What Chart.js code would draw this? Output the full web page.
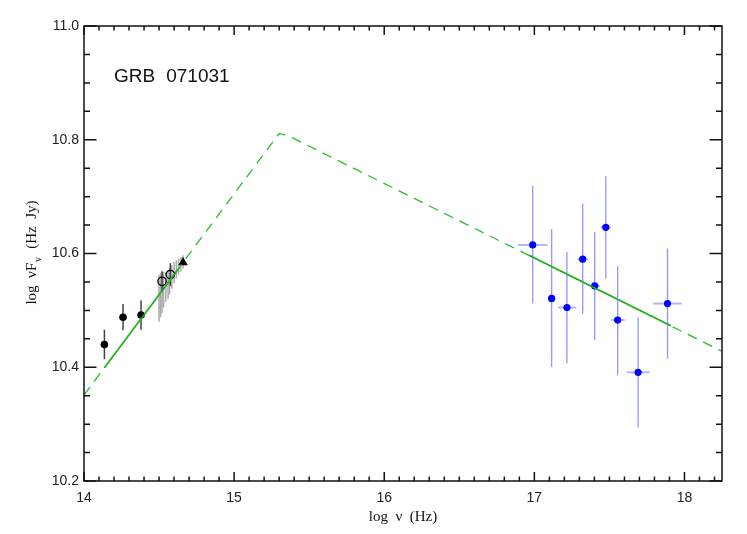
<!DOCTYPE html>
<html>
<head>
<meta charset="utf-8">
<script src="https://cdn.jsdelivr.net/npm/chart.js@4.4.0/dist/chart.umd.min.js"></script>
<style>
  body { margin: 0; background: #fff; }
  canvas { display: block; }
</style>
</head>
<body>
<canvas id="sed" width="747" height="534"></canvas>
<script>
// broken power law model (dashed) and the two fitted pieces (solid)
const modelX = [14.0, 15.30, 15.36, 18.25]
const modelY = [10.351, 10.811, 10.807, 10.428]
const optFitX = [14.136, 14.635]
const optFitY = [10.399, 10.575]
const xrayFitX = [16.964, 17.909]
const xrayFitY = [10.597, 10.473]

// near-IR / optical photometry
const nirX = [14.136, 14.26, 14.38]
const nirY = [10.440, 10.488, 10.492]
const nirErr = [0.026, 0.023, 0.026]
const openX = [14.52, 14.575]
const openY = [10.551, 10.563]
const openErr = [0.017, 0.02]
const triX = [14.66]
const triY = [10.584]

// optical spectrum (grey bars)
const specX = [14.50, 14.51, 14.52, 14.53, 14.545, 14.56, 14.57, 14.585, 14.60, 14.615, 14.63, 14.645, 14.66]
const specLo = [10.48, 10.488, 10.495, 10.505, 10.515, 10.52, 10.528, 10.538, 10.548, 10.556, 10.563, 10.568, 10.574]
const specHi = [10.562, 10.566, 10.570, 10.568, 10.566, 10.570, 10.575, 10.580, 10.585, 10.588, 10.591, 10.594, 10.597]

// X-ray points
const xrayX = [16.989, 17.115, 17.217, 17.322, 17.402, 17.476, 17.555, 17.691, 17.887]
const xrayY = [10.615, 10.521, 10.505, 10.590, 10.543, 10.646, 10.483, 10.391, 10.512]
const xrayXLo = [16.891, 17.093, 17.157, 17.287, 17.371, 17.442, 17.509, 17.615, 17.791]
const xrayXHi = [17.087, 17.142, 17.280, 17.357, 17.437, 17.509, 17.602, 17.767, 17.982]
const xrayYLo = [10.512, 10.400, 10.407, 10.494, 10.448, 10.556, 10.386, 10.294, 10.415]
const xrayYHi = [10.719, 10.643, 10.603, 10.688, 10.638, 10.736, 10.578, 10.488, 10.609]

const xTicks = [14, 15, 16, 17, 18]
const yTicks = [10.2, 10.4, 10.6, 10.8, 11.0]

const pts = (xs, ys) => xs.map((x, i) => ({ x: x, y: ys[i] }))

const sansFont = '"Liberation Sans", Arial, sans-serif'
const serifFont = '"Liberation Serif", "Times New Roman", serif'

const errorBars = {
  id: 'errorBars',
  beforeDatasetsDraw(chart) {
    const ctx = chart.ctx
    const xs = chart.scales.x
    const ys = chart.scales.y
    ctx.save()
    // grey spectrum
    ctx.strokeStyle = 'rgba(150,150,150,0.8)'
    ctx.lineWidth = 1.5
    specX.forEach((x, i) => {
      const px = xs.getPixelForValue(x)
      ctx.beginPath()
      ctx.moveTo(px, ys.getPixelForValue(specLo[i]))
      ctx.lineTo(px, ys.getPixelForValue(specHi[i]))
      ctx.stroke()
    })
    // photometry bars
    ctx.strokeStyle = '#444'
    ctx.lineWidth = 1.5
    const allX = nirX.concat(openX)
    const allY = nirY.concat(openY)
    const allE = nirErr.concat(openErr)
    allX.forEach((x, i) => {
      const px = xs.getPixelForValue(x)
      ctx.beginPath()
      ctx.moveTo(px, ys.getPixelForValue(allY[i] - allE[i]))
      ctx.lineTo(px, ys.getPixelForValue(allY[i] + allE[i]))
      ctx.stroke()
    })
    // X-ray bars
    xrayX.forEach((x, i) => {
      const px = xs.getPixelForValue(x)
      const py = ys.getPixelForValue(xrayY[i])
      ctx.strokeStyle = 'rgba(60,60,255,0.55)'
      ctx.lineWidth = 1.3
      ctx.beginPath()
      ctx.moveTo(px, ys.getPixelForValue(xrayYLo[i]))
      ctx.lineTo(px, ys.getPixelForValue(xrayYHi[i]))
      ctx.stroke()
      ctx.strokeStyle = 'rgba(90,90,255,0.45)'
      ctx.lineWidth = 2
      ctx.beginPath()
      ctx.moveTo(xs.getPixelForValue(xrayXLo[i]), py)
      ctx.lineTo(xs.getPixelForValue(xrayXHi[i]), py)
      ctx.stroke()
    })
    ctx.restore()
  }
}

const frame = {
  id: 'frame',
  afterDraw(chart) {
    const ctx = chart.ctx
    const a = chart.chartArea
    const xs = chart.scales.x
    const ys = chart.scales.y
    ctx.save()
    ctx.strokeStyle = '#111'
    ctx.lineWidth = 1.5
    ctx.strokeRect(a.left, a.top, a.right - a.left, a.bottom - a.top)
    ctx.beginPath()
    for (let k = 0; k <= 42; k++) {
      const v = 14 + k * 0.1
      const px = xs.getPixelForValue(v)
      const len = k % 10 === 0 ? 9 : 4.5
      ctx.moveTo(px, a.bottom); ctx.lineTo(px, a.bottom - len)
      ctx.moveTo(px, a.top); ctx.lineTo(px, a.top + len)
    }
    for (let k = 0; k <= 16; k++) {
      const v = 10.2 + k * 0.05
      const py = ys.getPixelForValue(v)
      const len = k % 4 === 0 ? 12.5 : 6
      ctx.moveTo(a.left, py); ctx.lineTo(a.left + len, py)
      ctx.moveTo(a.right, py); ctx.lineTo(a.right - len, py)
    }
    ctx.stroke()

    // titles
    ctx.fillStyle = '#111'
    ctx.font = '15px ' + serifFont
    ctx.textAlign = 'center'
    ctx.textBaseline = 'middle'
    ctx.fillText('log  \u03bd  (Hz)', (a.left + a.right) / 2, a.bottom + 36)

    ctx.save()
    ctx.translate(a.left - 52, (a.top + a.bottom) / 2)
    ctx.rotate(-Math.PI / 2)
    const p1 = 'log  \u03bdF'
    const p2 = '\u03bd'
    const p3 = '  (Hz  Jy)'
    ctx.font = '15px ' + serifFont
    const w1 = ctx.measureText(p1).width
    const w3 = ctx.measureText(p3).width
    ctx.font = '10px ' + serifFont
    const w2 = ctx.measureText(p2).width
    let x0 = -(w1 + w2 + w3) / 2
    ctx.textAlign = 'left'
    ctx.font = '15px ' + serifFont
    ctx.fillText(p1, x0, 0)
    ctx.font = '10px ' + serifFont
    ctx.fillText(p2, x0 + w1 + 1, 6)
    ctx.font = '15px ' + serifFont
    ctx.fillText(p3, x0 + w1 + w2 + 2, 0)
    ctx.restore()

    // label
    ctx.font = '19px ' + sansFont
    ctx.textAlign = 'left'
    const lx = xs.getPixelForValue(14.2)
    const ly = ys.getPixelForValue(10.91)
    ctx.fillText('GRB', lx, ly)
    ctx.fillText('071031', lx + ctx.measureText('GRB').width + 11, ly)
    ctx.restore()
  }
}

new Chart(document.getElementById('sed'), {
  type: 'scatter',
  data: {
    datasets: [
      {
        data: pts(modelX, modelY), showLine: true, pointRadius: 0,
        borderColor: '#2cbc2c', borderWidth: 1.3, borderDash: [10, 7]
      },
      {
        data: pts(optFitX, optFitY), showLine: true, pointRadius: 0,
        borderColor: '#1aa51a', borderWidth: 1.6
      },
      {
        data: pts(xrayFitX, xrayFitY), showLine: true, pointRadius: 0,
        borderColor: '#1aa51a', borderWidth: 1.6
      },
      {
        data: pts(nirX, nirY), pointRadius: 3.8,
        backgroundColor: '#000', borderColor: '#000', borderWidth: 0
      },
      {
        data: pts(openX, openY), pointRadius: 4.2,
        backgroundColor: 'rgba(0,0,0,0)', borderColor: '#000', borderWidth: 1.3
      },
      {
        data: pts(triX, triY), pointStyle: 'triangle', pointRadius: 5.5,
        backgroundColor: '#000', borderColor: '#000', borderWidth: 0
      },
      {
        data: pts(xrayX, xrayY), pointRadius: 3.6,
        backgroundColor: '#0000ff', borderColor: '#0000ff', borderWidth: 0
      }
    ]
  },
  options: {
    responsive: false,
    animation: false,
    devicePixelRatio: 1,
    layout: { padding: { top: 26, right: 25, left: 0, bottom: 0 } },
    plugins: { legend: { display: false }, tooltip: { enabled: false } },
    scales: {
      x: {
        type: 'linear', min: 14, max: 18.25,
        afterBuildTicks: s => { s.ticks = xTicks.map(v => ({ value: v })) },
        afterFit: s => { s.height = 53 },
        grid: { display: false, drawTicks: false },
        border: { display: false },
        ticks: {
          padding: 9, color: '#222',
          font: { family: sansFont, size: 14 },
          callback: v => String(v)
        }
      },
      y: {
        type: 'linear', min: 10.2, max: 11.0,
        afterBuildTicks: s => { s.ticks = yTicks.map(v => ({ value: v })) },
        afterFit: s => { s.width = 84 },
        grid: { display: false, drawTicks: false },
        border: { display: false },
        ticks: {
          padding: 5, color: '#222',
          font: { family: sansFont, size: 14 },
          callback: v => v.toFixed(1)
        }
      }
    }
  },
  plugins: [errorBars, frame]
})
</script>
</body>
</html>
